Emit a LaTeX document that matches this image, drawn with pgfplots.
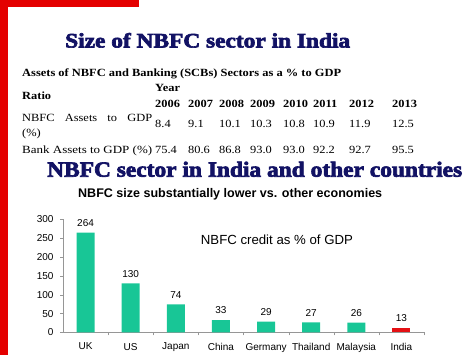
\documentclass[border=0pt]{standalone}
\usepackage{fontspec}
\usepackage{pgfplots}
\pgfplotsset{compat=1.18}
\setmainfont{Liberation Serif}
\newfontfamily\arialfont{Liberation Sans}
\newfontfamily\heavyfont[FakeBold=3]{Liberation Serif Bold}
\definecolor{framered}{RGB}{228,0,0}
\definecolor{navytitle}{RGB}{18,18,100}
\definecolor{barteal}{RGB}{24,198,150}
\definecolor{indiared}{RGB}{228,16,20}
\definecolor{axgray}{RGB}{150,150,150}
\newcommand\T[1]{\scalebox{1.13}[1]{#1}}
\begin{document}
\begin{tikzpicture}[x=1pt,y=1pt]
\path[use as bounding box] (0,0) rectangle (474,355);
\fill[framered] (0,348) rectangle (139,355);
\fill[framered] (0,0) rectangle (8,355);
% Title 1
\node[anchor=base west, inner sep=0, text=navytitle] at (65,307.5)
  {\resizebox{285pt}{14.5pt}{\heavyfont Size of NBFC sector in India}};
% Table
\begin{scope}[every node/.style={anchor=base west, inner sep=0, font=\fontsize{11}{13}\selectfont}]
\node at (22,278) {\resizebox{319pt}{\height}{\bfseries Assets of NBFC and Banking (SCBs) Sectors as a \% to GDP}};
\node at (155,263.3) {\T{\bfseries Year}};
\node at (22,255) {\T{\bfseries Ratio}};
\foreach \xx/\yy in {155/2006,188/2007,219/2008,250/2009,283/2010,313/2011,349/2012,392/2013}
  \node at (\xx,247.7) {\T{\bfseries\yy}};
\node at (22,233.3) {\makebox[130pt][s]{\T{NBFC}\hfil\T{Assets}\hfil\T{to}\hfil\T{GDP}}};
\node at (22,218.3) {\T{(\%)}};
\foreach \xx/\yy in {155/8.4,188/9.1,219/10.1,250/10.3,283/10.8,313/10.9,349/11.9,392/12.5}
  \node at (\xx,227.7) {\T{\yy}};
\node at (22,201.7) {\resizebox{130pt}{\height}{Bank Assets to GDP (\%)}};
\foreach \xx/\yy in {155/75.4,188/80.6,219/86.8,250/93.0,283/93.0,313/92.2,349/92.7,392/95.5}
  \node at (\xx,201.7) {\T{\yy}};
\end{scope}
% Title 2
\node[anchor=base west, inner sep=0, text=navytitle] at (47,178.3)
  {\resizebox{415pt}{15pt}{\heavyfont NBFC sector in India and other countries}};
% Chart title
\node[anchor=base west, inner sep=0] at (78,157)
  {\resizebox{304pt}{!}{\arialfont\bfseries NBFC size substantially lower vs. other economies}};
\node[anchor=base west, inner sep=0] at (200.7,110)
  {\resizebox{152pt}{!}{\arialfont NBFC credit as \% of GDP}};
\begin{axis}[
  at={(63pt,22.5pt)}, anchor=south west,
  scale only axis, width=361pt, height=113.5pt,
  xmin=-0.5, xmax=7.5, ymin=0, ymax=300,
  axis x line*=bottom, axis y line*=left,
  axis line style={axgray},
  ytick={0,50,...,300},
  xtick={0,...,7},
  xticklabels={UK,US,Japan,China,Germany,Thailand,Malaysia,India},
  minor xtick={0.5,1.5,...,7.5},
  major x tick style={draw=none},
  minor tick length=3pt,
  major tick length=3pt,
  tick align=outside,
  tick style={axgray},
  /pgf/number format/assume math mode=true,
  ticklabel style={font=\arialfont\fontsize{10}{12}\selectfont},
  yticklabel style={xshift=-3pt},
  xticklabel style={yshift=-4pt},
  nodes near coords,
  every node near coord/.append style={font=\arialfont\fontsize{10}{12}\selectfont, yshift=2.5pt},
]
\addplot[ybar, bar width=18pt, bar shift=0pt, fill=barteal, draw=none]
  coordinates {(0,264) (1,130) (2,74) (3,33) (4,29) (5,27) (6,26)};
\addplot[ybar, bar width=18pt, bar shift=0pt, fill=indiared, draw=none]
  coordinates {(7,13)};
\end{axis}
\end{tikzpicture}
\end{document}
